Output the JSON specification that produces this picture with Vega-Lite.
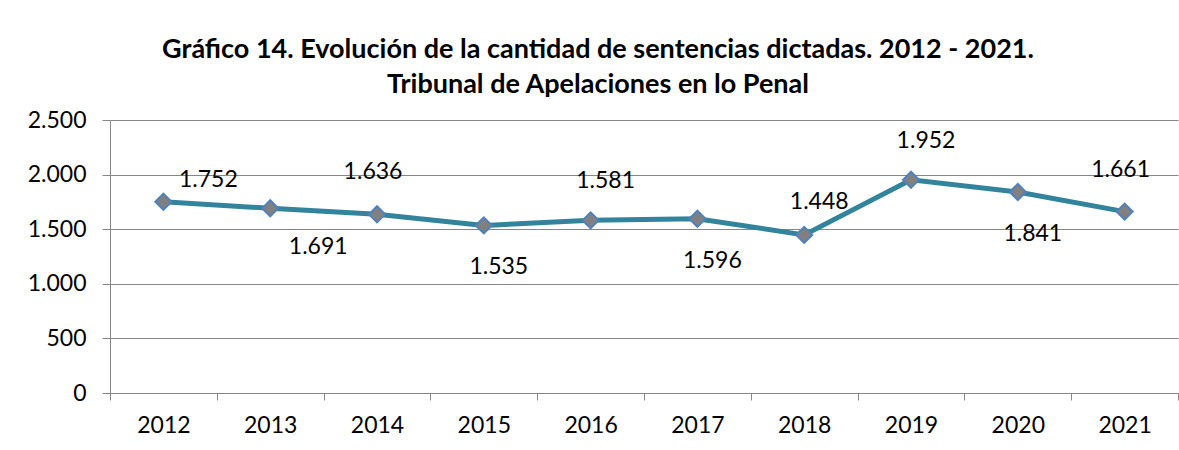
{
  "$schema": "https://vega.github.io/schema/vega-lite/v6.json",
  "width": 1068,
  "height": 273,
  "autosize": "none",
  "padding": {"left": 110, "top": 120, "right": 1, "bottom": 57},
  "background": "white",
  "title": {
    "text": ["Gráfico 14. Evolución de la cantidad de sentencias dictadas. 2012 - 2021.", "Tribunal de Apelaciones en lo Penal"],
    "font": "Lato",
    "fontSize": 27,
    "fontWeight": "bold",
    "color": "#000000",
    "anchor": "middle",
    "dx": -46,
    "offset": 10,
    "lineHeight": 35
  },
  "config": {
    "locale": {"number": {"decimal": ",", "thousands": ".", "grouping": [3], "currency": ["", ""]}},
    "view": {"stroke": null},
    "axis": {"labelFont": "Lato", "labelFontSize": 23, "labelColor": "#000000", "domainColor": "#868686", "tickColor": "#868686", "gridColor": "#868686", "title": null}
  },
  "data": {
    "values": [
      {"year": 2012, "value": 1752},
      {"year": 2013, "value": 1691},
      {"year": 2014, "value": 1636},
      {"year": 2015, "value": 1535},
      {"year": 2016, "value": 1581},
      {"year": 2017, "value": 1596},
      {"year": 2018, "value": 1448},
      {"year": 2019, "value": 1952},
      {"year": 2020, "value": 1841},
      {"year": 2021, "value": 1661}
    ]
  },
  "encoding": {
    "x": {
      "field": "year", "type": "ordinal",
      "scale": {"type": "band", "paddingInner": 0, "paddingOuter": 0},
      "axis": {"labelAngle": 0, "tickBand": "extent", "tickSize": 7, "labelPadding": 14, "grid": false, "domainWidth": 1}
    },
    "y": {
      "field": "value", "type": "quantitative",
      "scale": {"domain": [0, 2500], "nice": false},
      "axis": {"values": [0, 500, 1000, 1500, 2000, 2500], "format": ",d", "tickSize": 8, "labelPadding": 16, "grid": true, "gridWidth": 1}
    }
  },
  "layer": [
    {"mark": {"type": "line", "color": "#31849B", "strokeWidth": 5}},
    {"mark": {"type": "point", "shape": "diamond", "size": 260, "filled": true, "fill": "#808080", "stroke": "#4F81BD", "strokeWidth": 2, "opacity": 1}},
    {
      "transform": [{"filter": {"field": "year", "oneOf": [2012]}}],
      "mark": {"type": "text", "font": "Lato", "fontSize": 23, "color": "#000000", "dx": 45, "dy": -22},
      "encoding": {"text": {"field": "value", "type": "quantitative", "format": ",d"}}
    },
    {
      "transform": [{"filter": {"field": "year", "oneOf": [2013]}}],
      "mark": {"type": "text", "font": "Lato", "fontSize": 23, "color": "#000000", "dx": 48, "dy": 39},
      "encoding": {"text": {"field": "value", "type": "quantitative", "format": ",d"}}
    },
    {
      "transform": [{"filter": {"field": "year", "oneOf": [2014, 2021]}}],
      "mark": {"type": "text", "font": "Lato", "fontSize": 23, "color": "#000000", "dx": -4, "dy": -42},
      "encoding": {"text": {"field": "value", "type": "quantitative", "format": ",d"}}
    },
    {
      "transform": [{"filter": {"field": "year", "oneOf": [2016, 2019]}}],
      "mark": {"type": "text", "font": "Lato", "fontSize": 23, "color": "#000000", "dx": 15, "dy": -39},
      "encoding": {"text": {"field": "value", "type": "quantitative", "format": ",d"}}
    },
    {
      "transform": [{"filter": {"field": "year", "oneOf": [2018]}}],
      "mark": {"type": "text", "font": "Lato", "fontSize": 23, "color": "#000000", "dx": 15, "dy": -33},
      "encoding": {"text": {"field": "value", "type": "quantitative", "format": ",d"}}
    },
    {
      "transform": [{"filter": {"field": "year", "oneOf": [2015, 2017, 2020]}}],
      "mark": {"type": "text", "font": "Lato", "fontSize": 23, "color": "#000000", "dx": 15, "dy": 42},
      "encoding": {"text": {"field": "value", "type": "quantitative", "format": ",d"}}
    }
  ]
}
